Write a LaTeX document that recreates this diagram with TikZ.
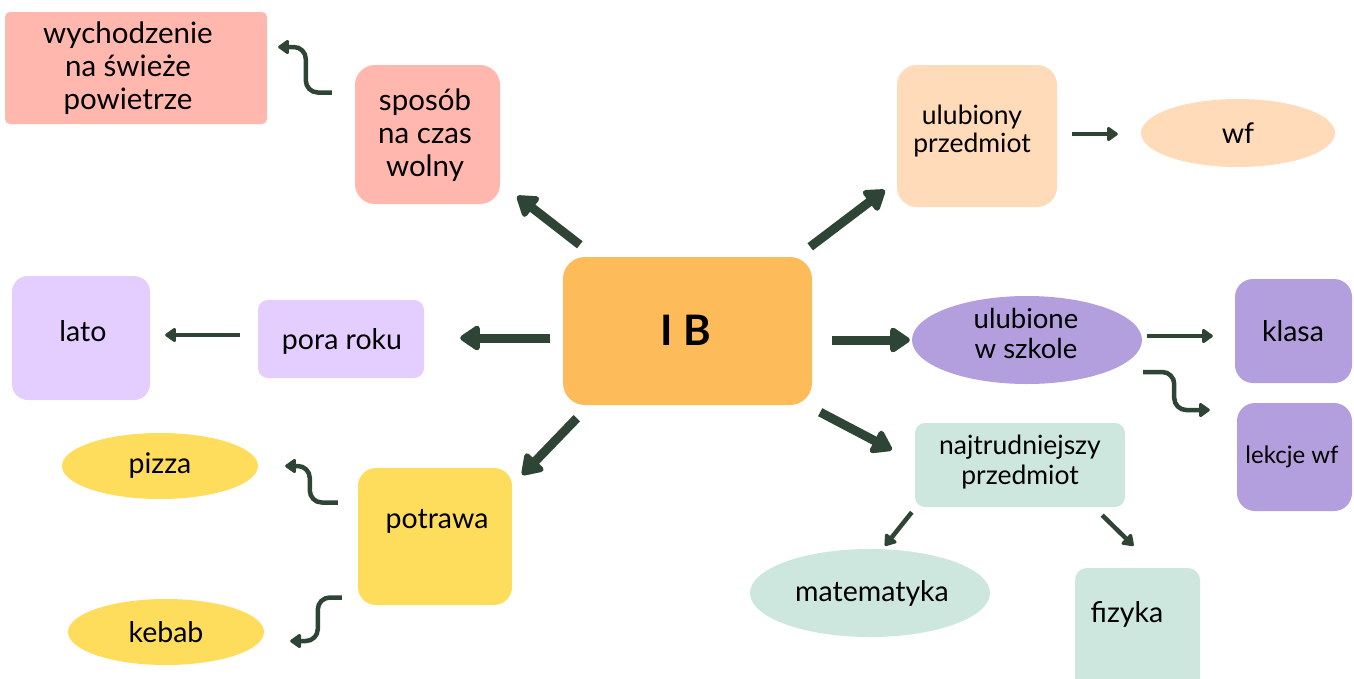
\documentclass[tikz,border=0pt]{standalone}
\usepackage{fontspec}
\setmainfont{Lato}
\usetikzlibrary{arrows.meta,shapes.geometric}
\definecolor{cpink}{HTML}{FFB7AE}
\definecolor{cpeach}{HTML}{FFDBBA}
\definecolor{corange}{HTML}{FEBB59}
\definecolor{clav}{HTML}{E3CEFF}
\definecolor{cpurple}{HTML}{B39FDE}
\definecolor{cmint}{HTML}{CDE7DF}
\definecolor{cyellow}{HTML}{FFDD5C}
\definecolor{carrow}{HTML}{2E4536}
\tikzset{
  box/.style={draw=none, rectangle, rounded corners=16pt, inner sep=0pt},
  oval/.style={draw=none, ellipse, inner sep=0pt},
  txt/.style={align=center, inner sep=0pt, font=\fontsize{28.5}{32}\selectfont},
  bigarrow/.style={draw=carrow, line width=9pt, -{Triangle[round,width=28pt,length=22pt]}},
  smallarrow/.style={draw=carrow, line width=4.5pt, -{Triangle[round,width=16pt,length=12pt]}},
}
\begin{document}
\begin{tikzpicture}[x=1pt,y=-1pt]
\useasboundingbox (0,0) rectangle (1354,678);
\fill[white] (0,0) rectangle (1354,678);
% shapes
\node[box, rounded corners=5pt, fill=cpink, minimum width=262pt, minimum height=112pt] (wych) at (136,68) {};
\node[txt, font=\fontsize{29.5}{33}\selectfont] (wych-t) at (128,68) {wychodzenie\\na świeże\\powietrze};
\node[box, rounded corners=20pt, fill=cpink, minimum width=145pt, minimum height=139pt] (sposob) at (427.5,134.5) {};
\node[txt, font=\fontsize{29.5}{33}\selectfont] (sposob-t) at (425,135) {sposób\\na czas\\wolny};
\node[box, rounded corners=20pt, fill=cpeach, minimum width=160pt, minimum height=142pt] (ulub) at (977,136) {};
\node[txt, font=\fontsize{26.5}{28}\selectfont] (ulub-t) at (972,131) {ulubiony\\przedmiot};
\node[oval, fill=cpeach, minimum width=194pt, minimum height=68pt] (wf) at (1238,133) {};
\node[txt] (wf-t) at (1238,133) {wf};
\node[box, rounded corners=22pt, fill=corange, minimum width=249pt, minimum height=148pt] (ib) at (687.5,331) {};
\node[txt, font=\fontsize{42}{46}\selectfont\bfseries] (ib-t) at (686,330) {I B};
\node[box, rounded corners=10pt, fill=clav, minimum width=166pt, minimum height=78pt] (pora) at (341,339) {};
\node[txt] (pora-t) at (342,341) {pora roku};
\node[box, rounded corners=16pt, fill=clav, minimum width=138pt, minimum height=124pt] (lato) at (81,338) {};
\node[txt] (lato-t) at (83,331) {lato};
\node[oval, fill=cpurple, minimum width=230pt, minimum height=88pt] (ulubione) at (1027,340) {};
\node[txt, font=\fontsize{27.5}{30}\selectfont] (ulubione-t) at (1026,333) {ulubione\\w szkole};
\node[box, rounded corners=18pt, fill=cpurple, minimum width=117pt, minimum height=104pt] (klasa) at (1293.5,331) {};
\node[txt] (klasa-t) at (1293,331) {klasa};
\node[box, rounded corners=18pt, fill=cpurple, minimum width=115pt, minimum height=108pt] (lekcje) at (1294.5,457) {};
\node[txt, font=\fontsize{24}{27}\selectfont] (lekcje-t) at (1292,457) {lekcje wf};
\node[box, rounded corners=10pt, fill=cmint, minimum width=210pt, minimum height=84pt] (najtr) at (1020,465) {};
\node[txt, font=\fontsize{26.5}{30}\selectfont] (najtr-t) at (1020,462) {najtrudniejszy\\przedmiot};
\node[oval, fill=cmint, minimum width=240pt, minimum height=88pt] (mat) at (870,593) {};
\node[txt] (mat-t) at (872,593) {matematyka};
\node[box, rounded corners=12pt, fill=cmint, minimum width=125pt, minimum height=122pt] (fizyka) at (1137.5,629) {};
\node[txt] (fizyka-t) at (1127,614) {fizyka};
\node[box, rounded corners=18pt, fill=cyellow, minimum width=154pt, minimum height=137pt] (potrawa) at (435,536.5) {};
\node[txt] (potrawa-t) at (437,521) {potrawa};
\node[oval, fill=cyellow, minimum width=196pt, minimum height=66pt] (pizza) at (160,466) {};
\node[txt] (pizza-t) at (160,466) {pizza};
\node[oval, fill=cyellow, minimum width=196pt, minimum height=66pt] (kebab) at (166,632) {};
\node[txt] (kebab-t) at (166,632) {kebab};
% thick arrows from centre
\draw[bigarrow] ([shift={(17,-12)}]ib.north west) -- ([shift={(17,-8)}]sposob.south east);
\draw[bigarrow] ([shift={(-2,-10)}]ib.north east) -- ([shift={(-12,-17)}]ulub.south west);
\draw[bigarrow] ([shift={(-13,7)}]ib.west) -- ([shift={(36,-1)}]pora.east);
\draw[bigarrow] ([shift={(20,9)}]ib.east) -- ([shift={(-2,0)}]ulubione.west);
\draw[bigarrow] ([shift={(14,13)}]ib.south west) -- ([shift={(10,7)}]potrawa.north east);
\draw[bigarrow] ([shift={(8,7)}]ib.south east) -- ([shift={(-23,27)}]najtr.north west);
% thin arrows
\draw[smallarrow] ([shift={(15,-2)}]ulub.east) -- ([shift={(-23,1)}]wf.west);
\draw[smallarrow] ([shift={(-18,-4)}]pora.west) -- ([shift={(15,-3)}]lato.east);
\draw[smallarrow] ([shift={(5,-4)}]ulubione.east) -- ([shift={(-22,5)}]klasa.west);
\draw[smallarrow, rounded corners=12pt] ([shift={(1,32)}]ulubione.east) -- ++(31,0) |- ([shift={(-27,-47)}]lekcje.west);
\draw[smallarrow, rounded corners=12pt] ([shift={(-23,-42)}]sposob.west) -- ++(-26,0) |- ([shift={(11,-21)}]wych.east);
\draw[smallarrow, rounded corners=12pt] ([shift={(-20,-34)}]potrawa.west) -- ++(-28,0) |- ([shift={(27,0)}]pizza.east);
\draw[smallarrow, rounded corners=12pt] ([shift={(-16,61)}]potrawa.west) -- ++(-24,0) |- ([shift={(26,9)}]kebab.east);
\draw[smallarrow] ([shift={(-3,5)}]najtr.south west) -- ([shift={(15,-3)}]mat.north);
\draw[smallarrow] ([shift={(-23,8)}]najtr.south east) -- ([shift={(-4,-22)}]fizyka.north);
\end{tikzpicture}
\end{document}
